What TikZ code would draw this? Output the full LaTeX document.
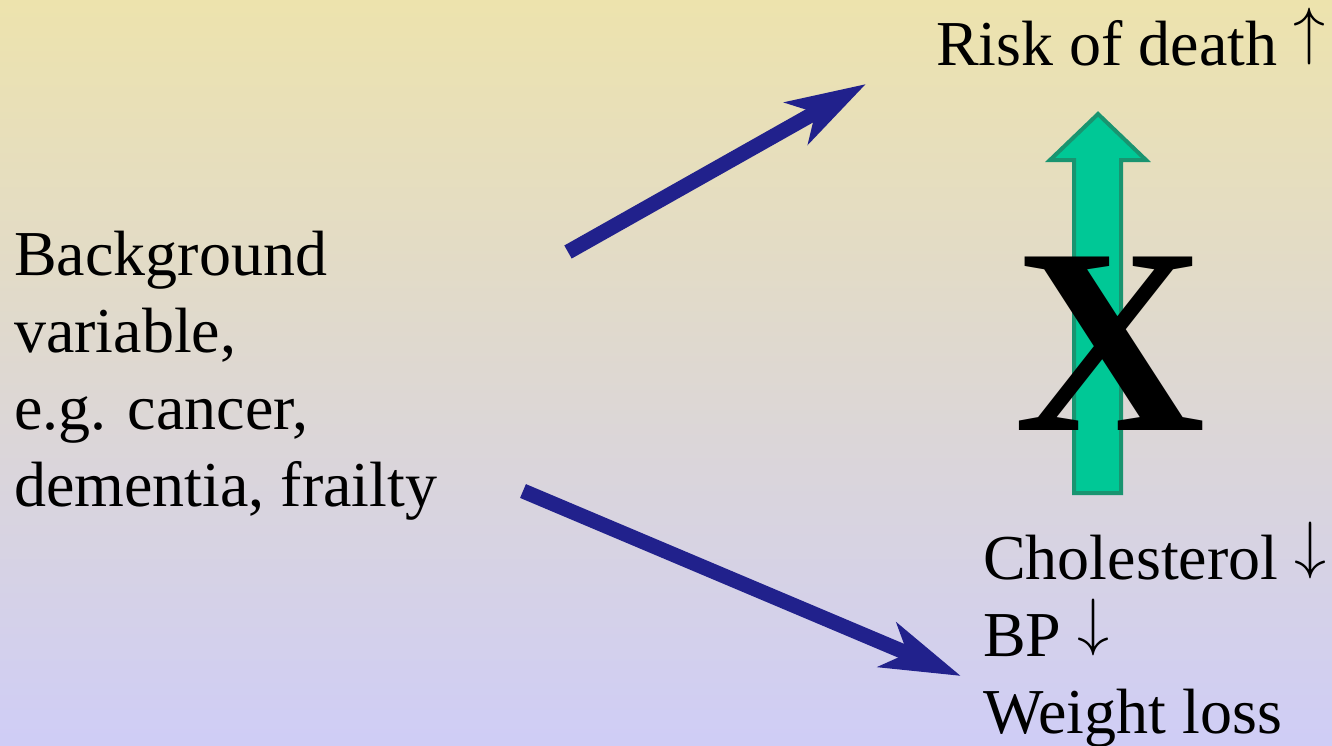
\documentclass[tikz,border=0pt]{standalone}
\usepackage{fix-cm}
\usepackage{fontspec}
\setmainfont{Liberation Serif}
\usetikzlibrary{arrows.meta}
\definecolor{bgtop}{RGB}{237,227,173}
\definecolor{bgbot}{RGB}{207,205,246}
\definecolor{linkblue}{RGB}{33,33,140}
\definecolor{cholfill}{RGB}{0,200,150}
\definecolor{choledge}{RGB}{25,148,112}
% trend arrows sitting on the baseline
\newcommand{\trendup}{\raisebox{0.194em}{$\uparrow$}}
\newcommand{\trenddown}{\raisebox{0.194em}{$\downarrow$}}
\begin{document}
\begin{tikzpicture}[x=1pt,y=-1pt,
  txt/.style={inner sep=0pt, font=\fontsize{64}{77}\selectfont, align=left},
  causal/.style={draw=linkblue, line width=15pt,
    -{Stealth[length=79pt,width=47pt,inset=21pt]}},
  blocked/.style={fill=cholfill, draw=choledge, line width=4pt, line join=miter},
]
% backdrop
\fill[top color=bgtop, bottom color=bgbot] (0,0) rectangle (1332,745);
\useasboundingbox (0,0) rectangle (1332,745);

% texts (anchored at the baseline of their last line)
\node[txt, anchor=base west] (bg) at (14,506)
  {Background\\variable,\\e.g. cancer,\\dementia, frailty};
\node[txt, anchor=base west] (risk) at (936,65) {Risk of death \trendup};
\node[txt, anchor=base west] (chol) at (983,733)
  {Cholesterol \trenddown\\BP \trenddown\\Weight loss};

% the cholesterol -> death link, crossed out
\draw[blocked] (1074,493) -- (1074,160) -- (1050,160) -- (1098,114)
  -- (1146,160) -- (1121,160) -- (1121,493) -- cycle;
\node[inner sep=0pt, font=\bfseries\fontsize{265}{265}\selectfont] (cross) at (1110,344) {X};

% background variable drives both
\coordinate (up0) at (568,252);
\coordinate (up1) at (866,84);
\coordinate (dn0) at (523,491);
\coordinate (dn1) at (961,676);
\draw[causal] (up0) -- (up1);
\draw[causal] (dn0) -- (dn1);
\end{tikzpicture}
\end{document}
